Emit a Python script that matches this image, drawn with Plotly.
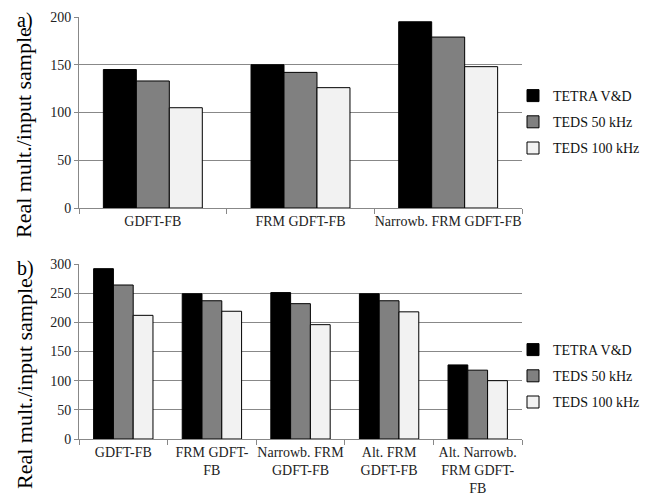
import plotly.graph_objects as go
from plotly.subplots import make_subplots

series = ["TETRA V&D", "TEDS 50 kHz", "TEDS 100 kHz"]
colors = ["#000000", "#808080", "#f2f2f2"]

cats_a = ["GDFT-FB", "FRM GDFT-FB", "Narrowb. FRM GDFT-FB"]
vals_a = {
    "TETRA V&D": [145, 150, 195],
    "TEDS 50 kHz": [133, 142, 179],
    "TEDS 100 kHz": [105, 126, 148],
}

cats_b = ["GDFT-FB", "FRM GDFT-<br>FB", "Narrowb. FRM<br>GDFT-FB", "Alt. FRM<br>GDFT-FB",
          "Alt. Narrowb.<br>FRM GDFT-<br>FB"]
vals_b = {
    "TETRA V&D": [292, 249, 251, 249, 127],
    "TEDS 50 kHz": [264, 237, 232, 237, 118],
    "TEDS 100 kHz": [212, 219, 196, 218, 100],
}

FONT = "Liberation Serif"
OFF = 8  # page body margin
W, H = 652 - OFF, 504 - OFF


def px(x):
    return (x - OFF) / W


def py(y):
    return 1 - (y - OFF) / H


fig = make_subplots(rows=2, cols=1)

for i, s in enumerate(series):
    fig.add_trace(go.Bar(x=cats_a, y=vals_a[s], name=s, marker=dict(color=colors[i], line=dict(color="#000000", width=1)),
                         legend="legend", legendgroup="a" + str(i)), row=1, col=1)
for i, s in enumerate(series):
    fig.add_trace(go.Bar(x=cats_b, y=vals_b[s], name=s, marker=dict(color=colors[i], line=dict(color="#000000", width=1)),
                         legend="legend2", legendgroup="b" + str(i)), row=2, col=1)

axis_common = dict(showline=True, linecolor="#888888", linewidth=1, automargin=False,
                   tickfont=dict(family=FONT, size=14, color="#222222"))
fig.update_xaxes(domain=[px(79), px(522)], ticks="outside", tickson="boundaries", ticklen=5, tickcolor="#888888",
                 showgrid=False, tickangle=0, **axis_common)
fig.update_yaxes(showgrid=True, gridcolor="#888888", gridwidth=1, ticks="outside", ticklen=4,
                 tickcolor="#888888", zeroline=False, **axis_common)
fig.update_layout(
    xaxis=dict(anchor="y"),
    yaxis=dict(domain=[py(208), py(17)], range=[0, 200], dtick=50),
    xaxis2=dict(anchor="y2"),
    yaxis2=dict(domain=[py(439), py(264)], range=[0, 300], dtick=50),
)

leg = dict(font=dict(family=FONT, size=14, color="#111111"), bgcolor="rgba(0,0,0,0)",
           xanchor="left", yanchor="middle", tracegroupgap=5, itemwidth=30, borderwidth=0)
fig.update_layout(
    legend=dict(x=px(513), y=py(122), **leg),
    legend2=dict(x=px(513), y=py(376), **leg),
)

ann_font = dict(family=FONT, size=22, color="#000000")
common_ann = dict(xref="paper", yref="paper", showarrow=False, font=ann_font, xanchor="center", yanchor="middle")
fig.add_annotation(text="Real mult./input sample", textangle=-90, x=px(24), y=py(133), **common_ann)
fig.add_annotation(text="Real mult./input sample", textangle=-90, x=px(24), y=py(384), **common_ann)
lab_font = dict(family=FONT, size=20, color="#000000")
fig.add_annotation(text="a)", x=px(25), y=py(8), xref="paper", yref="paper", showarrow=False,
                   font=lab_font, xanchor="center", yanchor="top", borderpad=0)
fig.add_annotation(text="b)", x=px(25), y=py(256), xref="paper", yref="paper", showarrow=False,
                   font=lab_font, xanchor="center", yanchor="top", borderpad=0)

fig.update_layout(
    width=W, height=H, margin=dict(l=0, r=0, t=0, b=0, autoexpand=False),
    barmode="group", bargap=0.33, bargroupgap=0,
    plot_bgcolor="white", paper_bgcolor="white",
    font=dict(family=FONT, size=14),
)

fig.write_html("out.html")
